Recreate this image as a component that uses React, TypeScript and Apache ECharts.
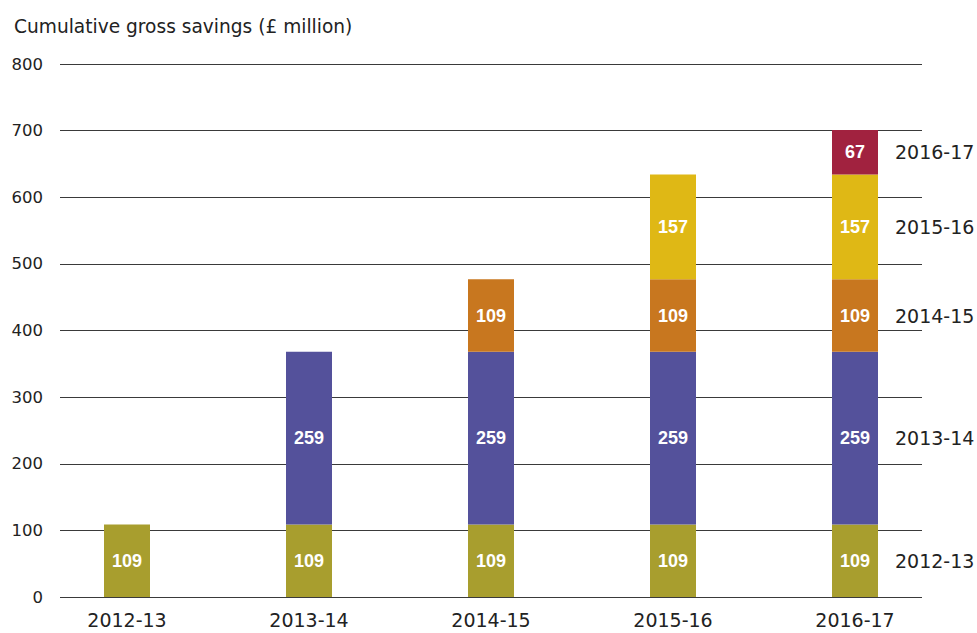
import React, { useEffect, useRef } from "react";
import * as echarts from "echarts";

const categories = ["2012-13", "2013-14", "2014-15", "2015-16", "2016-17"];
const seriesNames = ["2012-13", "2013-14", "2014-15", "2015-16", "2016-17"];
const s2012 = [109, 109, 109, 109, 109];
const s2013 = [null, 259, 259, 259, 259];
const s2014 = [null, null, 109, 109, 109];
const s2015 = [null, null, null, 157, 157];
const s2016 = [null, null, null, null, 67];
const colors = ["#A89E2E", "#54519B", "#C8771F", "#DFB815", "#A1223F"];
const yTicks = [0, 100, 200, 300, 400, 500, 600, 700, 800];

const FONT = "'DejaVu Sans', sans-serif";
const BFONT = "'Liberation Sans', Arial, sans-serif";

export default function App() {
  const ref = useRef<HTMLDivElement>(null);
  useEffect(() => {
    const chart = echarts.init(ref.current!, null, { renderer: "svg" });
    const all = [s2012, s2013, s2014, s2015, s2016];
    const lastIdx = categories.length - 1;
    const series: any[] = all.map((arr, i) => {
      const below = all.slice(0, i).reduce((s, a) => s + ((a[lastIdx] as number) || 0), 0);
      const mid = below + (arr[lastIdx] as number) / 2;
      return {
        type: "bar",
        name: seriesNames[i],
        stack: "total",
        xAxisIndex: 1,
        yAxisIndex: 1,
        barWidth: 46,
        data: arr,
        itemStyle: { color: colors[i] },
        label: {
          show: true,
          position: "inside",
          color: "#ffffff",
          fontFamily: BFONT,
          fontSize: 18,
          fontWeight: "bold",
        },
        markPoint: {
          symbol: "circle",
          symbolSize: 0,
          silent: true,
          data: [
            {
              coord: [categories[lastIdx], mid],
              label: {
                show: true,
                position: "right",
                distance: 0,
                offset: [40, 0],
                formatter: seriesNames[i],
                color: "#222",
                fontFamily: FONT,
                fontSize: 19,
              },
            },
          ],
        },
      };
    });
    chart.setOption({
      animation: false,
      title: {
        text: "Cumulative gross savings (£ million)",
        left: 9,
        top: 12,
        textStyle: { fontFamily: FONT, fontSize: 18.6, fontWeight: "normal", color: "#222" },
      },
      grid: [
        { left: 60, right: 55, top: 64, height: 533 },
        { left: 36, width: 910, top: 64, height: 533 },
      ],
      xAxis: [
        { type: "category", gridIndex: 0, data: categories, show: false },
        {
          type: "category",
          gridIndex: 1,
          data: categories,
          axisLine: { show: false },
          axisTick: { show: false },
          axisLabel: { color: "#222", fontFamily: FONT, fontSize: 19, margin: 13 },
        },
      ],
      yAxis: [
        {
          type: "value",
          gridIndex: 0,
          min: yTicks[0],
          max: yTicks[yTicks.length - 1],
          interval: 100,
          axisLine: { show: false },
          axisTick: { show: false },
          axisLabel: { color: "#222", fontFamily: FONT, fontSize: 16.5, margin: 17 },
          splitLine: { show: true, lineStyle: { color: "#3a3a3a", width: 1 } },
        },
        {
          type: "value",
          gridIndex: 1,
          min: yTicks[0],
          max: yTicks[yTicks.length - 1],
          interval: 100,
          show: false,
          splitLine: { show: false },
        },
      ],
      series,
    });
    return () => chart.dispose();
  }, []);
  return (
    <div
      ref={ref}
      style={{ position: "fixed", left: 0, top: 0, width: 977, height: 633, background: "#fff" }}
    />
  );
}
